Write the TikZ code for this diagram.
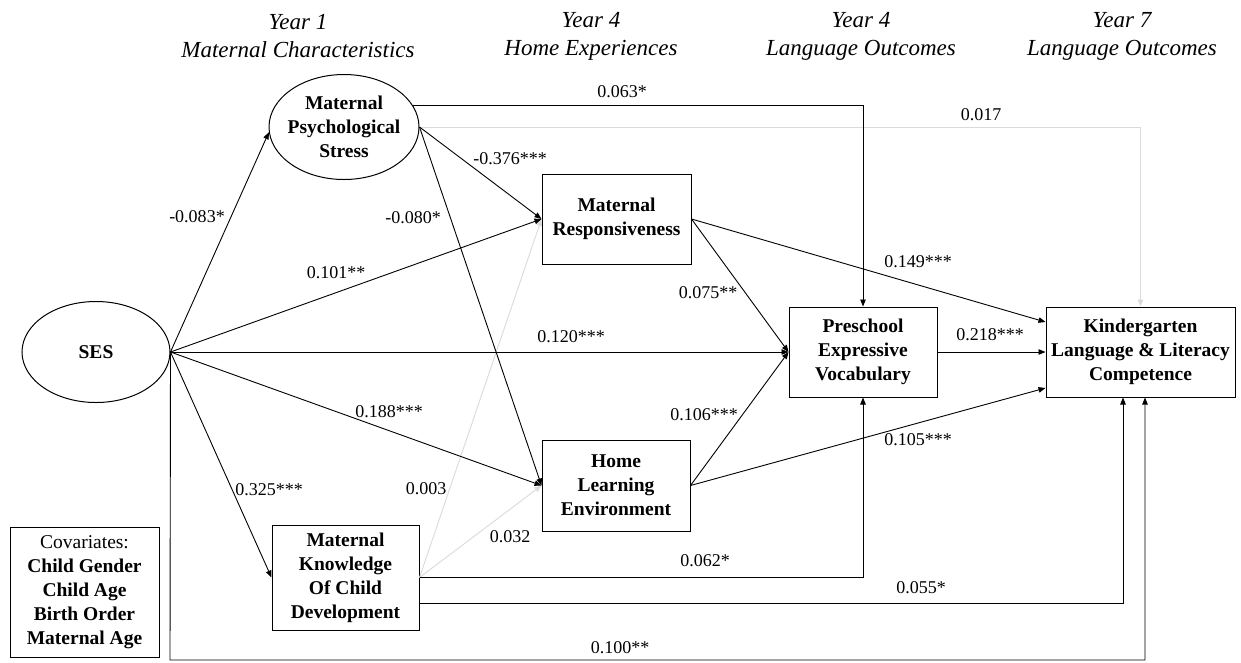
\documentclass[tikz,border=0pt]{standalone}
\usepackage{fontspec}
\setmainfont{Liberation Serif}
\usetikzlibrary{arrows.meta,shapes.geometric}
\definecolor{lightline}{RGB}{218,218,218}
\begin{document}
\begin{tikzpicture}[x=1pt,y=-1pt,
  hdr/.style={font=\fontsize{23}{28}\selectfont\itshape, align=center, inner sep=0},
  lbl/.style={font=\fontsize{18}{22}\selectfont, inner sep=0},
  bold/.style={font=\fontsize{19.5}{24}\selectfont\bfseries, align=center, inner sep=0},
  boxn/.style={draw, line width=1pt, inner sep=0},
  ell/.style={draw, ellipse, line width=1pt, inner sep=0},
  conn/.style={line width=0.9pt, -{Triangle[length=7pt,width=5.5pt]}},
  weak/.style={conn, draw=lightline, -{Triangle[length=7pt,width=5.5pt,fill=lightline]}},
  line join=miter]
\useasboundingbox (0,0) rectangle (1241,662);
% headers
\node[hdr] (h1) at (298,36) {Year 1\\Maternal Characteristics};
\node[hdr] (h2) at (591,36) {Year 4\\Home Experiences};
\node[hdr] (h3) at (861,36) {Year 4\\Language Outcomes};
\node[hdr] (h4) at (1122,36) {Year 7\\Language Outcomes};
% nodes
\node[ell, minimum width=148, minimum height=101] (ses) at (96,352) {};
\node[bold] (sest) at (ses) {SES};
\node[ell, minimum width=150, minimum height=105] (mps) at (344,127) {};
\node[bold] (mpst) at (mps) {Maternal\\Psychological\\Stress};
\node[boxn, minimum width=149, minimum height=90] (mr) at (616.5,219) {};
\node[bold] (mrt) at (mr) {Maternal\\Responsiveness};
\node[boxn, minimum width=148, minimum height=91] (home) at (616,485.5) {};
\node[bold] (homet) at (home) {Home\\Learning\\Environment};
\node[boxn, minimum width=148, minimum height=90] (pre) at (863,352) {};
\node[bold] (pret) at (pre) {Preschool\\Expressive\\Vocabulary};
\node[boxn, minimum width=189, minimum height=90] (kg) at (1140.5,352) {};
\node[bold] (kgt) at (kg) {Kindergarten\\Language \& Literacy\\Competence};
\node[boxn, minimum width=147, minimum height=105] (kn) at (345.5,577.5) {};
\node[bold] (knt) at (kn) {Maternal\\Knowledge\\Of Child\\Development};
\node[boxn, minimum width=149, minimum height=130] (cov) at (84.5,592) {};
\node[bold] (covt) at (cov) {{\mdseries Covariates:}\\Child Gender\\Child Age\\Birth Order\\Maternal Age};
% light connectors first
\draw[weak] (mps.east) -| (kg.north);
\draw[weak] (kn.east) -- (mr.west);
\draw[weak] (kn.east) -- (home.west);
% connectors
\draw[conn] (ses.east) -- (mps.184);
\draw[conn] (ses.east) -- (mr.west);
\draw[conn] (ses.east) -- (pre.west);
\draw[conn] (ses.east) -- (home.west);
\draw[conn] (ses.east) -- (kn.west);
\coordinate (sesb) at (170,660);
\draw[conn] (ses.east) -- (sesb) -| ([xshift=4.5pt]kg.south);
\draw[conn] (mps.17) -| (pre.north);
\draw[conn] (mps.east) -- (mr.west);
\draw[conn] (mps.east) -- (home.west);
\draw[conn] (mr.east) -- (pre.west);
\draw[conn] (mr.east) -- ([yshift=30pt]kg.west);
\draw[conn] (home.east) -- (pre.west);
\draw[conn] (home.east) -- ([yshift=-36pt]kg.west);
\draw[conn] (pre.east) -- (kg.west);
\draw[conn] (kn.east) -| (pre.south);
\draw[conn] ([yshift=-26pt]kn.east) -| ([xshift=-17.5pt]kg.south);
% labels
\node[lbl] (l1) at (622,92) {0.063*};
\node[lbl] (l2) at (981,115) {0.017};
\node[lbl] (l3) at (510,159) {-0.376***};
\node[lbl] (l4) at (197,217) {-0.083*};
\node[lbl] (l5) at (413,218) {-0.080*};
\node[lbl] (l6) at (336,273) {0.101**};
\node[lbl] (l7) at (708,293) {0.075**};
\node[lbl] (l8) at (918,262) {0.149***};
\node[lbl] (l9) at (571,337) {0.120***};
\node[lbl] (l10) at (990,335) {0.218***};
\node[lbl] (l11) at (389,412) {0.188***};
\node[lbl] (l12) at (704,415) {0.106***};
\node[lbl] (l13) at (918,440) {0.105***};
\node[lbl] (l14) at (269,490) {0.325***};
\node[lbl] (l15) at (426,489) {0.003};
\node[lbl] (l16) at (510,537) {0.032};
\node[lbl] (l17) at (705,561) {0.062*};
\node[lbl] (l18) at (921,588) {0.055*};
\node[lbl] (l19) at (620,648) {0.100**};
\end{tikzpicture}
\end{document}
